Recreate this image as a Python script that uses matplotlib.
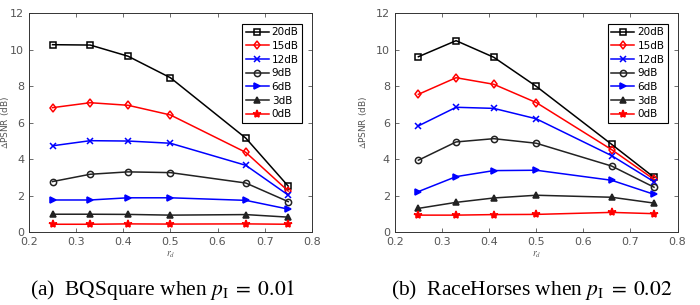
import matplotlib
matplotlib.use("Agg")
import matplotlib.pyplot as plt

# x positions (r_d)
rd = [0.25, 0.33, 0.41, 0.5, 0.66, 0.75]

labels = ["20dB", "15dB", "12dB", "9dB", "6dB", "3dB", "0dB"]

# (a) BQSquare, p_I = 0.01
bq_20 = [10.27, 10.25, 9.64, 8.46, 5.15, 2.52]
bq_15 = [6.82, 7.09, 6.95, 6.42, 4.37, 2.25]
bq_12 = [4.73, 5.01, 4.99, 4.87, 3.66, 2.03]
bq_9 = [2.77, 3.17, 3.30, 3.26, 2.69, 1.67]
bq_6 = [1.76, 1.76, 1.88, 1.88, 1.74, 1.26]
bq_3 = [0.98, 0.98, 0.97, 0.93, 0.96, 0.82]
bq_0 = [0.43, 0.43, 0.45, 0.44, 0.45, 0.43]

# (b) RaceHorses, p_I = 0.02
rh_20 = [9.61, 10.49, 9.58, 7.99, 4.81, 3.00]
rh_15 = [7.55, 8.46, 8.10, 7.10, 4.52, 2.89]
rh_12 = [5.82, 6.84, 6.78, 6.21, 4.19, 2.76]
rh_9 = [3.94, 4.94, 5.12, 4.87, 3.62, 2.46]
rh_6 = [2.22, 3.04, 3.37, 3.39, 2.84, 2.07]
rh_3 = [1.30, 1.63, 1.87, 2.02, 1.91, 1.59]
rh_0 = [0.93, 0.93, 0.96, 0.97, 1.08, 1.01]

colors = ["black", "red", "blue", "#222222", "blue", "#222222", "red"]
markers = ["s", "d", "x", "o", ">", "^", "*"]
hollow = [True, True, False, True, False, False, False]

GREY = "#555555"


def draw(ax, series, ylabel_x):
    for y, lab, c, m, h in zip(series, labels, colors, markers, hollow):
        ax.plot(rd, y, color=c, marker=m, lw=1.1, ms=4.5 if m != "*" else 6,
                mfc="none" if h else c, mew=1.1, label=lab)
    ax.set_xlim(0.2, 0.8)
    ax.set_ylim(0, 12)
    ax.set_xticks([0.2, 0.3, 0.4, 0.5, 0.6, 0.7, 0.8])
    ax.set_yticks([0, 2, 4, 6, 8, 10, 12])
    ax.tick_params(direction="in", top=True, right=True, labelsize=8,
                   colors=GREY, length=3, width=0.6)
    for s in ax.spines.values():
        s.set_color("#333333")
        s.set_linewidth(0.7)
    ax.set_xlabel(r"$r_d$", fontsize=7, color=GREY, labelpad=2)
    ax.set_ylabel(r"$\Delta$PSNR (dB)", fontsize=6.5, color=GREY)
    ax.yaxis.set_label_coords(ylabel_x, 0.5)
    leg = ax.legend(loc="upper right", fontsize=7.5, handlelength=2.2,
                    borderpad=0.35, labelspacing=0.35, handletextpad=0.3,
                    fancybox=False, framealpha=1, edgecolor="black",
                    bbox_to_anchor=(0.985, 0.975))
    leg.get_frame().set_linewidth(0.8)


plt.rcParams["mathtext.fontset"] = "stix"
fig = plt.figure(figsize=(7, 3.05), dpi=100)
ax1 = fig.add_axes([0.0414, 0.239, 0.404, 0.718])
ax2 = fig.add_axes([0.564, 0.239, 0.404, 0.718])

draw(ax1, [bq_20, bq_15, bq_12, bq_9, bq_6, bq_3, bq_0], -0.062)
draw(ax2, [rh_20, rh_15, rh_12, rh_9, rh_6, rh_3, rh_0], -0.09)

cap_font = dict(fontsize=15.5, family="Liberation Serif", ha="center", va="center")
fig.text(0.233, 0.05, r"(a)  BQSquare when $p_{\mathrm{I}}\;=\;0.01$", **cap_font)
fig.text(0.76, 0.05, r"(b)  RaceHorses when $p_{\mathrm{I}}\;=\;0.02$", **cap_font)

fig.savefig("out.png", dpi=100)
